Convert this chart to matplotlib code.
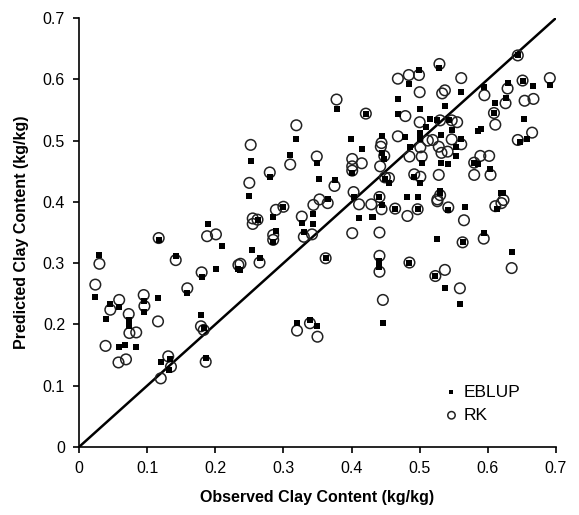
import matplotlib
matplotlib.use("Agg")
import matplotlib.pyplot as plt

plt.rcParams['font.family'] = ['Liberation Sans', 'DejaVu Sans']

# EBLUP predictions (observed, predicted)
eblup_obs = [0.030, 0.024, 0.039, 0.046, 0.059, 0.059, 0.068, 0.084, 0.073, 0.074,
             0.095, 0.096, 0.116, 0.118, 0.120, 0.134, 0.132, 0.142, 0.159, 0.180,
             0.179, 0.183, 0.186, 0.189, 0.210, 0.201, 0.234,
             0.378, 0.421, 0.319, 0.252, 0.399, 0.416, 0.310, 0.349, 0.401, 0.280,
             0.352, 0.375, 0.250, 0.403, 0.365, 0.344, 0.300, 0.285, 0.411, 0.430,
             0.327, 0.262, 0.343, 0.289, 0.285, 0.330, 0.254, 0.265, 0.362, 0.237,
             0.320, 0.339, 0.350,
             0.529, 0.499, 0.485, 0.561, 0.468, 0.500, 0.537, 0.468, 0.515, 0.526,
             0.543, 0.547, 0.509, 0.479, 0.444, 0.500, 0.500, 0.532, 0.561, 0.553,
             0.553, 0.486, 0.444, 0.447, 0.503, 0.531, 0.541, 0.492, 0.501, 0.449,
             0.455, 0.530, 0.482, 0.497, 0.441,
             0.444, 0.464, 0.497, 0.530, 0.542, 0.567, 0.431, 0.526, 0.563, 0.441,
             0.441, 0.485, 0.523, 0.537, 0.559, 0.446,
             0.644, 0.651, 0.691, 0.667, 0.629, 0.595, 0.611, 0.626, 0.609, 0.653,
             0.585, 0.590, 0.657, 0.647, 0.580, 0.585, 0.603, 0.623,
             0.620, 0.613, 0.594, 0.635]
eblup_pred = [0.313, 0.244, 0.209, 0.234, 0.228, 0.163, 0.166, 0.163, 0.208, 0.198,
              0.238, 0.220, 0.243, 0.337, 0.138, 0.144, 0.126, 0.312, 0.252, 0.277,
              0.215, 0.195, 0.145, 0.364, 0.328, 0.290, 0.290,
              0.551, 0.544, 0.502, 0.466, 0.502, 0.486, 0.476, 0.463, 0.447, 0.440,
              0.437, 0.436, 0.409, 0.408, 0.405, 0.381, 0.392, 0.376, 0.373, 0.376,
              0.365, 0.371, 0.364, 0.353, 0.335, 0.351, 0.322, 0.308, 0.308, 0.289,
              0.203, 0.207, 0.197,
              0.618, 0.615, 0.593, 0.579, 0.568, 0.552, 0.556, 0.544, 0.536, 0.533,
              0.533, 0.518, 0.522, 0.506, 0.507, 0.512, 0.502, 0.509, 0.502, 0.490,
              0.475, 0.490, 0.480, 0.470, 0.464, 0.463, 0.462, 0.441, 0.431, 0.437,
              0.430, 0.418, 0.408, 0.408, 0.408,
              0.395, 0.389, 0.388, 0.415, 0.386, 0.392, 0.376, 0.340, 0.334, 0.304,
              0.294, 0.301, 0.279, 0.259, 0.234, 0.202,
              0.639, 0.598, 0.590, 0.589, 0.594, 0.587, 0.561, 0.569, 0.545, 0.535,
              0.516, 0.519, 0.503, 0.497, 0.464, 0.462, 0.453, 0.415,
              0.414, 0.388, 0.349, 0.318]

# RK predictions (observed, predicted)
rk_obs = [0.024, 0.030, 0.046, 0.059, 0.039, 0.058, 0.069, 0.073, 0.074, 0.084,
          0.095, 0.096, 0.116, 0.117, 0.120, 0.131, 0.135, 0.142, 0.159, 0.180,
          0.179, 0.183, 0.186, 0.188, 0.201, 0.234,
          0.378, 0.421, 0.319, 0.252, 0.415, 0.310, 0.349, 0.401, 0.401, 0.401,
          0.280, 0.375, 0.250, 0.403, 0.353, 0.365, 0.344, 0.411, 0.429, 0.289,
          0.300, 0.327, 0.255, 0.262, 0.255, 0.285, 0.285, 0.330, 0.342, 0.401,
          0.265, 0.362, 0.237,
          0.320, 0.339, 0.350,
          0.529, 0.468, 0.484, 0.499, 0.561, 0.500, 0.533, 0.537, 0.479, 0.500,
          0.530, 0.547, 0.555, 0.468, 0.444, 0.512, 0.519, 0.547, 0.561, 0.528,
          0.541, 0.532, 0.501, 0.443, 0.448, 0.485, 0.503, 0.442, 0.528, 0.492,
          0.501, 0.449, 0.455, 0.530, 0.441, 0.526,
          0.444, 0.464, 0.482, 0.497, 0.526, 0.542, 0.565, 0.441, 0.563, 0.441,
          0.441, 0.485, 0.523, 0.537, 0.559, 0.446,
          0.644, 0.651, 0.691, 0.654, 0.667, 0.629, 0.595, 0.626, 0.609, 0.611,
          0.665, 0.644, 0.589, 0.602, 0.580, 0.580, 0.604, 0.623,
          0.611, 0.620, 0.594, 0.635]
rk_pred = [0.265, 0.299, 0.224, 0.240, 0.165, 0.138, 0.143, 0.217, 0.186, 0.187,
           0.248, 0.230, 0.205, 0.341, 0.112, 0.148, 0.131, 0.305, 0.259, 0.285,
           0.197, 0.191, 0.139, 0.344, 0.347, 0.297,
           0.567, 0.544, 0.525, 0.493, 0.463, 0.461, 0.474, 0.470, 0.458, 0.451,
           0.448, 0.426, 0.431, 0.416, 0.404, 0.398, 0.395, 0.396, 0.396, 0.387,
           0.392, 0.376, 0.373, 0.371, 0.364, 0.346, 0.338, 0.343, 0.347, 0.349,
           0.301, 0.308, 0.299,
           0.190, 0.202, 0.180,
           0.625, 0.601, 0.607, 0.607, 0.602, 0.579, 0.577, 0.582, 0.540, 0.530,
           0.533, 0.533, 0.530, 0.507, 0.496, 0.500, 0.501, 0.502, 0.494, 0.490,
           0.482, 0.480, 0.489, 0.490, 0.475, 0.474, 0.474, 0.458, 0.444, 0.445,
           0.441, 0.440, 0.439, 0.411, 0.408, 0.404,
           0.388, 0.389, 0.377, 0.388, 0.401, 0.391, 0.370, 0.350, 0.334, 0.312,
           0.286, 0.301, 0.279, 0.289, 0.259, 0.240,
           0.639, 0.598, 0.602, 0.565, 0.568, 0.585, 0.574, 0.561, 0.545, 0.526,
           0.513, 0.501, 0.475, 0.475, 0.464, 0.444, 0.444, 0.403,
           0.393, 0.398, 0.340, 0.292]

ticks = [0, 0.1, 0.2, 0.3, 0.4, 0.5, 0.6, 0.7]
tick_labels = ['0', '0.1', '0.2', '0.3', '0.4', '0.5', '0.6', '0.7']

fig = plt.figure(figsize=(5.79, 5.15), dpi=100)
ax = fig.add_axes([0.1364, 0.132, 0.8238, 0.833])

# 1:1 line
ax.plot([0, 0.7], [0, 0.7], color='black', lw=1.8, zorder=1)

ax.scatter(eblup_obs, eblup_pred, marker='s', s=21, color='black',
           linewidths=0, label='EBLUP', zorder=3)
ax.scatter(rk_obs, rk_pred, marker='o', s=58, facecolors='none',
           edgecolors='#222222', linewidths=1.1, label='RK', zorder=2)

ax.set_xlim(0, 0.7)
ax.set_ylim(0, 0.7)
ax.set_xticks(ticks)
ax.set_xticklabels(tick_labels)
ax.set_yticks(ticks)
ax.set_yticklabels(tick_labels)
ax.spines['top'].set_visible(False)
ax.spines['right'].set_visible(False)
ax.spines['left'].set_linewidth(1.2)
ax.spines['bottom'].set_linewidth(1.2)
ax.tick_params(direction='out', length=4, width=1.2, labelsize=11.5, pad=6)

ax.set_xlabel('Observed Clay Content (kg/kg)', fontsize=11.5, fontweight='bold', labelpad=10)
ax.set_ylabel('Predicted Clay Content (kg/kg)', fontsize=11.5, fontweight='bold', labelpad=10)

leg = ax.legend(loc='lower left', bbox_to_anchor=(0.73, 0.02), frameon=False,
                fontsize=12.5, handletextpad=0.2, labelspacing=0.45,
                markerscale=0.7, handlelength=1.0)

fig.savefig('out.png', dpi=100)
